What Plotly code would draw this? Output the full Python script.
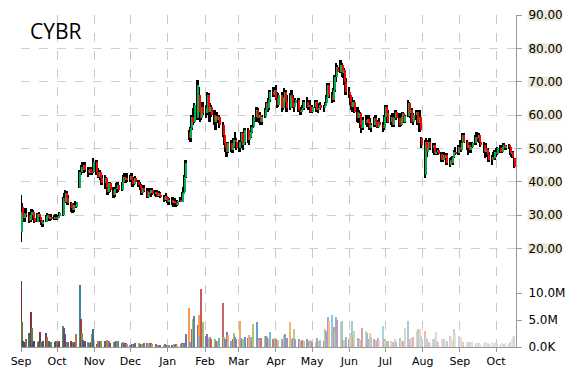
import pandas as pd
import plotly.graph_objects as go

# ---------------- data (daily OHLC, Sep 2014 - Oct 2015) ----------------
open_ = (
    [25.0,32.5,30.0,29.0,30.5,30.0,28.5,30.0,31.0,29.0,28.0,30.2,29.5,28.5,27.5,28.0,29.6,30.0,29.0,29.4,28.8,29.5]
    + [29.0,29.2,29.8,30.0,35.0,34.0,36.5,35.0,33.5,32.0,31.5,33.0,32.5,38.0,43.0,44.5,43.5,45.0,43.5,42.5,43.8,43.0,42.8]
    + [46.0,43.0,41.5,43.0,41.0,39.5,41.0,38.5,36.8,39.5,37.5,36.0,37.8,38.0,39.0,37.5,39.8,41.5,40.5,41.0]
    + [40.5,41.8,40.5,39.2,41.0,40.0,39.0,38.0,36.5,38.2,37.3,35.5,37.0,36.5,37.5,36.2,37.0,35.8,36.5,36.0,35.4,34.5,35.8]
    + [35.0,34.0,34.6,33.5,34.2,33.6,33.0,34.3,34.0,36.5,37.0,41.5,55.0,53.0,56.0,59.5,58.0,59.0,66.0,61.0,59.0,62.5]
    + [60.5,62.0,66.0,61.0,62.5,60.0,58.0,59.8,58.5,59.5,57.0,54.0,51.5,50.0,49.0,51.5,49.5,50.5,52.5,52.0]
    + [50.0,51.8,54.5,51.0,52.0,55.5,52.5,53.5,55.0,56.5,59.5,61.5,59.0,60.0,57.8,59.5,61.5,63.5,62.0,64.5,67.0,66.0]
    + [67.5,65.0,63.0,66.0,62.0,65.5,67.0,64.0,62.0,66.0,65.0,62.5,63.5,64.5,61.5,61.0,61.8,62.0,64.0,62.5,63.0,62.3]
    + [61.0,62.5,64.0,61.5,62.0,63.0,62.0,62.6,63.5,65.5,69.0,66.0,64.5,67.5,71.5,74.5,73.0,75.0,72.5,73.5,70.0]
    + [67.0,66.0,64.0,62.5,64.0,61.0,59.0,60.5,57.0,56.0,58.5,57.5,58.8,58.0,56.0,57.0,59.0,58.0,56.5,58.0,57.0,56.0]
    + [59.5,62.5,60.5,58.0,59.5,57.0,59.0,61.0,59.0,57.0,59.5,60.5,58.0,59.8,63.5,60.5,61.5,58.0,60.0,61.0,57.5,59.5,53.0]
    + [42.0,52.0,49.0,50.5,52.0,50.0,51.0,48.5,48.8,49.5,48.3,46.5,48.0,47.0,48.0,45.0,46.5,45.5,47.5,49.0,48.5]
    + [50.5,49.5,51.5,54.0,52.0,50.0,51.0,49.5,50.5,51.5,53.5,53.0,54.0,52.0,51.0,49.0,50.0,49.5,48.0,46.5,47.5,47.0]
    + [49.0,48.2,50.0,49.0,50.5,51.0,50.2,50.8,50.5,48.5,48.8,47.0]
)
high = (
    [36.0,33.5,31.5,31.0,32.0,31.0,30.5,31.8,31.5,30.0,30.5,31.0,30.0,29.0,28.5,30.0,30.5,30.3,29.8,30.3,30.0,30.2]
    + [29.5,30.0,31.0,35.5,36.5,37.5,37.2,36.0,34.0,33.0,33.5,34.3,34.0,43.5,45.0,46.0,45.5,45.8,44.5,44.0,44.5,44.0,47.0]
    + [46.5,44.0,43.5,43.5,42.0,42.0,41.5,39.0,40.0,40.0,38.5,38.0,39.5,40.0,40.0,40.0,42.0,42.5,41.5,42.5]
    + [42.0,42.6,41.0,41.5,41.8,40.5,40.0,39.2,38.5,39.0,38.0,37.5,38.0,37.8,38.0,37.5,37.5,37.0,37.2,36.8,36.0,36.0,36.5]
    + [35.5,35.0,35.5,34.5,35.0,34.3,34.5,35.5,37.0,38.5,42.0,46.5,55.5,56.5,60.0,62.0,63.6,70.5,68.4,64.0,63.5,64.0]
    + [63.0,67.0,66.5,63.5,63.0,61.5,60.5,61.0,60.0,60.0,58.0,55.0,52.5,51.5,52.0,52.5,51.0,53.0,55.0,53.0]
    + [52.5,55.0,55.0,53.0,56.0,56.0,54.0,55.5,57.0,60.0,62.4,62.0,60.5,61.0,60.0,62.0,64.0,64.0,65.0,67.5,68.4,68.0]
    + [69.0,67.0,66.5,67.0,66.0,68.0,67.5,66.0,66.5,67.5,66.0,64.0,65.0,65.0,62.4,62.0,63.0,64.5,65.4,63.5,64.5,63.0]
    + [63.0,64.5,64.5,62.5,63.5,64.0,63.0,64.0,66.0,69.6,69.5,67.0,68.0,72.0,75.6,75.0,76.5,75.5,74.5,74.0,71.0]
    + [68.5,67.0,65.4,64.5,64.5,62.5,61.5,61.0,58.5,59.5,60.0,59.0,60.0,59.0,57.5,59.5,60.0,58.5,58.5,59.0,58.0,60.0]
    + [63.0,63.0,61.5,60.0,60.5,59.5,61.5,61.5,60.5,60.0,61.0,61.0,60.0,64.5,64.0,62.0,62.0,60.5,61.5,61.5,60.0,61.5,53.5]
    + [52.5,53.0,51.0,52.5,53.0,51.5,51.5,49.0,50.0,50.0,49.0,48.5,49.0,48.5,48.5,47.0,47.5,47.8,49.5,50.5,51.0]
    + [52.5,52.0,54.6,54.5,52.5,51.5,52.0,51.0,52.0,54.0,55.0,54.5,54.5,53.0,52.0,50.5,51.5,50.0,49.0,48.0,49.0,49.5]
    + [50.0,50.5,51.0,51.0,51.5,51.5,51.0,51.2,51.0,49.0,49.2,47.2]
)
low = (
    [22.0,29.0,27.8,28.0,29.5,27.5,28.0,29.0,28.5,27.5,27.8,29.2,28.0,27.0,26.5,27.8,29.0,28.6,28.2,28.5,28.4,28.5]
    + [28.5,28.8,29.3,29.8,33.0,33.5,34.0,33.0,31.0,30.6,31.0,32.0,32.0,38.0,42.0,43.0,42.5,43.0,41.5,42.0,42.5,42.0,42.5]
    + [42.0,41.0,41.0,40.5,39.0,37.7,38.0,36.0,36.5,37.0,35.0,35.5,37.0,36.5,37.0,37.2,39.0,40.0,39.5,40.0]
    + [40.0,40.2,38.5,39.0,39.5,38.5,37.5,36.0,36.0,37.0,35.0,35.0,36.0,35.5,36.0,35.8,35.5,35.4,35.5,35.0,34.0,34.2,34.5]
    + [33.5,33.0,33.0,32.4,33.2,32.5,32.8,33.8,33.8,36.0,36.8,41.0,52.5,52.0,55.5,57.0,57.5,58.5,60.0,58.0,58.5,60.0]
    + [59.0,61.0,60.0,58.0,59.5,57.0,55.5,58.0,57.5,56.0,53.5,51.0,49.0,47.4,48.5,49.0,48.5,50.0,51.5,49.5]
    + [48.8,50.5,50.0,49.5,51.0,51.5,51.0,53.0,54.6,56.0,58.0,58.5,57.5,57.0,57.0,59.0,60.6,61.0,61.5,64.0,65.4,65.5]
    + [64.5,62.0,62.5,61.0,61.5,64.0,63.5,61.0,61.5,64.5,62.0,61.0,62.5,61.0,60.0,60.0,61.0,61.5,62.0,61.5,62.0,60.6]
    + [60.6,62.0,61.0,60.6,61.5,61.5,61.0,62.0,63.0,65.0,65.0,63.6,64.0,67.0,70.0,72.0,72.5,71.5,71.0,69.0,66.0]
    + [65.0,63.0,61.5,61.0,60.6,58.0,57.5,56.0,54.6,55.5,57.0,56.5,57.5,55.5,55.0,56.5,57.5,56.0,56.0,56.5,55.0,55.5]
    + [59.0,60.0,57.5,57.0,56.4,56.5,58.5,58.5,56.5,56.8,58.5,57.5,57.5,59.5,60.0,59.0,57.5,57.0,58.5,57.0,55.0,55.0,50.0]
    + [41.0,48.0,47.4,49.5,49.5,48.5,48.0,48.0,48.0,48.0,46.0,46.0,46.5,46.5,45.0,44.4,45.0,45.0,47.0,48.0,48.0]
    + [49.0,49.0,51.0,51.5,49.5,48.0,49.0,48.5,50.0,51.0,52.5,52.0,51.6,50.5,48.5,47.0,49.0,47.5,46.0,45.0,46.5,46.5]
    + [47.5,48.0,48.5,48.5,50.0,49.5,49.5,49.8,48.0,47.5,47.0,44.0]
)
close = (
    [31.0,30.0,29.2,30.5,30.0,28.2,30.0,31.0,29.0,28.0,30.2,29.5,28.5,27.5,28.0,29.6,30.0,29.0,29.4,28.8,29.5,29.0]
    + [29.2,29.8,30.5,35.0,34.0,36.5,35.0,33.5,32.0,31.5,33.0,32.5,33.8,43.0,44.5,43.5,45.0,43.5,42.5,43.8,43.0,42.8,46.0]
    + [43.0,41.5,43.0,41.0,39.5,41.0,38.5,36.8,39.5,37.5,36.0,37.8,38.0,39.0,37.5,39.8,41.5,40.5,41.0,40.5]
    + [41.8,40.5,39.2,41.0,40.0,39.0,38.0,36.5,38.2,37.3,35.5,37.0,36.5,37.5,36.2,37.0,35.8,36.5,36.0,35.4,34.5,35.8,35.0]
    + [34.0,34.6,33.5,34.2,33.6,33.0,34.3,34.0,36.5,37.0,41.5,45.5,53.0,56.0,59.5,58.0,63.0,69.0,61.0,59.0,62.5,60.5]
    + [62.0,66.0,61.0,62.5,60.0,58.0,59.8,58.5,59.5,57.0,54.0,51.5,50.0,49.0,51.5,49.5,50.5,52.5,52.0,50.0]
    + [51.8,54.5,51.0,52.0,55.5,52.5,53.5,55.0,56.5,59.5,61.5,59.0,60.0,57.8,59.5,61.5,63.5,62.0,64.5,67.0,66.0,67.5]
    + [65.0,63.0,66.0,62.0,65.5,67.0,64.0,62.0,66.0,65.0,62.5,63.5,64.5,61.5,61.0,61.8,62.0,64.0,62.5,63.0,62.3,61.0]
    + [62.5,64.0,61.5,62.0,63.0,62.0,62.6,63.5,65.5,69.0,66.0,64.5,67.5,71.5,74.5,73.0,75.0,72.5,73.5,70.0,67.0]
    + [66.0,64.0,62.5,64.0,61.0,59.0,60.5,57.0,56.0,58.5,57.5,58.8,58.0,56.0,57.0,59.0,58.0,56.5,58.0,57.0,56.0,59.5]
    + [62.5,60.5,58.0,59.5,57.0,59.0,61.0,59.0,57.0,59.5,60.5,58.0,59.8,63.5,60.5,61.5,58.0,60.0,61.0,57.5,59.5,55.5,51.0]
    + [52.0,49.0,50.5,52.0,50.0,51.0,48.5,48.8,49.5,48.3,46.5,48.0,47.0,48.0,45.5,46.5,45.5,47.5,49.0,48.5,50.5]
    + [49.5,51.5,54.0,52.0,50.0,51.0,49.5,50.5,51.5,53.5,53.0,54.0,52.0,51.0,49.0,50.0,49.5,48.0,46.5,47.5,47.0,49.0]
    + [48.2,50.0,49.0,50.5,51.0,50.2,50.8,50.5,48.5,48.8,47.5,44.5]
)
volume_m = (
    [12.2,4.6,1.2,0.9,1.5,2.6,6.4,3.6,1.0,1.2,1.0,1.2,2.8,1.0,1.1,2.6,1.8,1.1,0.9,1.0,1.0,1.1]
    + [0.9,1.0,1.2,3.9,3.6,2.5,0.9,1.0,1.2,1.0,0.8,0.9,2.5,11.5,5.1,2.6,1.3,1.2,0.9,0.8,1.0,2.5,3.3]
    + [0.5,1.1,1.0,1.2,1.1,1.2,1.0,1.3,1.2,0.8,0.9,1.0,1.2,1.2,1.1,0.8,0.9,0.7,0.8,0.5]
    + [0.3,0.5,0.6,0.5,0.7,0.8,0.5,0.6,0.5,0.7,0.8,0.8,0.7,0.8,0.6,0.5,0.4,0.3,0.4,0.4,0.3,0.5,0.4]
    + [0.3,0.4,0.2,0.5,0.3,0.5,0.4,0.5,0.8,0.6,0.8,2.5,7.3,1.0,3.3,5.1,5.7,4.1,6.0,2.2,10.7,4.6]
    + [2.0,2.5,1.6,1.9,1.4,1.4,1.2,1.1,1.1,1.6,8.2,1.9,1.5,2.8,2.3,1.2,1.5,2.6,1.8,1.5]
    + [4.8,1.7,1.1,1.5,1.9,1.7,2.2,1.9,1.2,4.2,4.6,1.7,1.3,1.6,1.7,2.1,2.0,1.9,1.5,2.8,1.4,1.6]
    + [1.5,1.3,1.3,1.4,1.2,2.2,2.4,1.6,4.6,1.5,1.7,3.3,1.4,1.4,1.2,1.1,1.3,1.2,1.4,1.1,1.3,1.2]
    + [0.9,0.9,1.6,1.0,1.2,1.3,1.2,3.3,3.0,5.6,4.8,5.9,3.7,3.0,5.6,5.0,4.6,4.8,1.2,1.3,1.8]
    + [1.5,2.6,4.9,1.6,3.0,1.7,1.4,1.3,1.2,3.6,3.0,2.6,1.5,2.6,1.9,1.4,1.3,1.2,1.7,1.2,3.9,1.4]
    + [1.2,1.1,1.2,1.1,0.9,1.0,1.4,1.0,1.6,1.2,1.0,1.1,3.6,4.9,1.5,1.6,1.2,1.9,3.0,3.3,3.0,3.3,2.0]
    + [3.0,1.6,1.4,1.0,0.8,1.4,1.6,2.8,1.2,0.8,1.4,1.1,1.4,1.0,1.1,2.0,1.6,1.3,3.3,2.6,2.0]
    + [1.5,1.8,1.2,1.0,0.9,1.0,0.9,0.8,0.9,0.7,0.8,0.7,0.7,0.6,0.8,0.9,0.7,0.8,0.6,0.9,0.7,0.8]
    + [0.6,0.7,0.6,0.8,0.5,0.6,0.7,0.6,0.9,1.4,1.8,2.0]
)
ticker = "CYBR"
price_ticks = [20, 30, 40, 50, 60, 70, 80, 90]
volume_ticks = [0, 5, 10]
volume_labels = ["0.0K", "5.0M", "10.0M"]
month_starts = pd.date_range("2014-09-01", "2015-10-01", freq="MS")

# ---------------- build ----------------
dates = pd.bdate_range("2014-09-01", periods=len(close))
DAY = 86400000
PRICE_RANGE = [-9.6, 90]

wick_h = [h - l for h, l in zip(high, low)]
body_base = [min(o, c) for o, c in zip(open_, close)]
body_h = [max(abs(c - o), 0.3) for o, c in zip(open_, close)]
body_col = ["#00B050" if c >= o else "#FF0000" for o, c in zip(open_, close)]

palette = ["#C0504D", "#9BBB59", "#4F81BD", "#8064A2", "#F79646", "#4BACC6"]


def shade(hexc, t):
    r, g, b = (int(hexc[i:i + 2], 16) for i in (1, 3, 5))
    if t < 0:
        f = lambda c: int(c * (1 + t))
    else:
        f = lambda c: int(c + (255 - c) * t)
    return "#%02X%02X%02X" % (f(r), f(g), f(b))


n = len(volume_m)
vol_col = [shade(palette[i % len(palette)], min(0.72, -0.35 + 1.15 * i / (n - 1))) for i in range(n)]

fig = go.Figure()
# wicks (black), then coloured bodies on top, shifted to the right half
fig.add_trace(go.Bar(x=dates, y=wick_h, base=low, marker_color="#000000",
                     marker_line_width=0, width=1.6 * DAY, offset=-0.8 * DAY,
                     showlegend=False))
fig.add_trace(go.Bar(x=dates, y=body_h, base=body_base, marker_color=body_col,
                     marker_line_width=0, width=0.9 * DAY, offset=0.0,
                     showlegend=False))
fig.add_trace(go.Bar(x=dates, y=volume_m, marker_color=vol_col, marker_line_width=0,
                     width=1.0 * DAY, yaxis="y2", showlegend=False))


def to_paper(v):
    return (v - PRICE_RANGE[0]) / (PRICE_RANGE[1] - PRICE_RANGE[0])


shapes = [dict(type="rect", xref="paper", yref="paper", x0=1.0236, x1=1.0909,
               y0=to_paper(v) - 0.0175, y1=to_paper(v) + 0.0155,
               fillcolor="#ECE9D8", line_width=0, layer="below")
          for v in price_ticks]

fig.update_layout(
    width=570, height=370,
    margin=dict(l=21, r=54, t=15, b=23, autoexpand=False),
    paper_bgcolor="white", plot_bgcolor="rgba(0,0,0,0)",
    barmode="overlay", bargap=0,
    showlegend=False,
    font=dict(family="DejaVu Sans", color="#000000"),
    shapes=shapes,
    xaxis=dict(type="date", range=["2014-09-01", "2015-10-17 14:00"],
               tickvals=list(month_starts), ticktext=[d.strftime("%b") for d in month_starts],
               showgrid=True, griddash="dash", gridcolor="#C8C8C8", gridwidth=1,
               ticks="outside", ticklen=4, tickcolor="#999999",
               showline=True, linecolor="#999999", linewidth=1,
               tickfont=dict(family="DejaVu Sans", size=11, color="#000000"),
               zeroline=False, automargin=False),
    yaxis=dict(domain=[0, 1], range=PRICE_RANGE, side="right",
               tickvals=price_ticks, tickformat=".2f",
               showgrid=True, griddash="dash", gridcolor="#D0D0D0", gridwidth=1,
               ticks="outside", ticklen=5, tickcolor="#999999",
               showline=True, linecolor="#999999", linewidth=1,
               tickfont=dict(family="DejaVu Sans", size=12, color="#000000"),
               zeroline=False, ticklabelstandoff=4, automargin=False),
    yaxis2=dict(overlaying="y", side="right", range=[0, 61.5],
                tickvals=volume_ticks, ticktext=volume_labels,
                showgrid=False, ticks="outside", ticklen=5, tickcolor="#999999",
                showline=False, zeroline=False,
                tickfont=dict(family="DejaVu Sans", size=12, color="#000000"),
                ticklabelstandoff=4, automargin=False),
    annotations=[dict(text=ticker, xref="paper", yref="paper", x=0.014, y=0.952,
                      xanchor="left", yanchor="middle", showarrow=False,
                      font=dict(family="Open Sans", size=21, color="#000000"))],
)

fig.write_html("out.html")
